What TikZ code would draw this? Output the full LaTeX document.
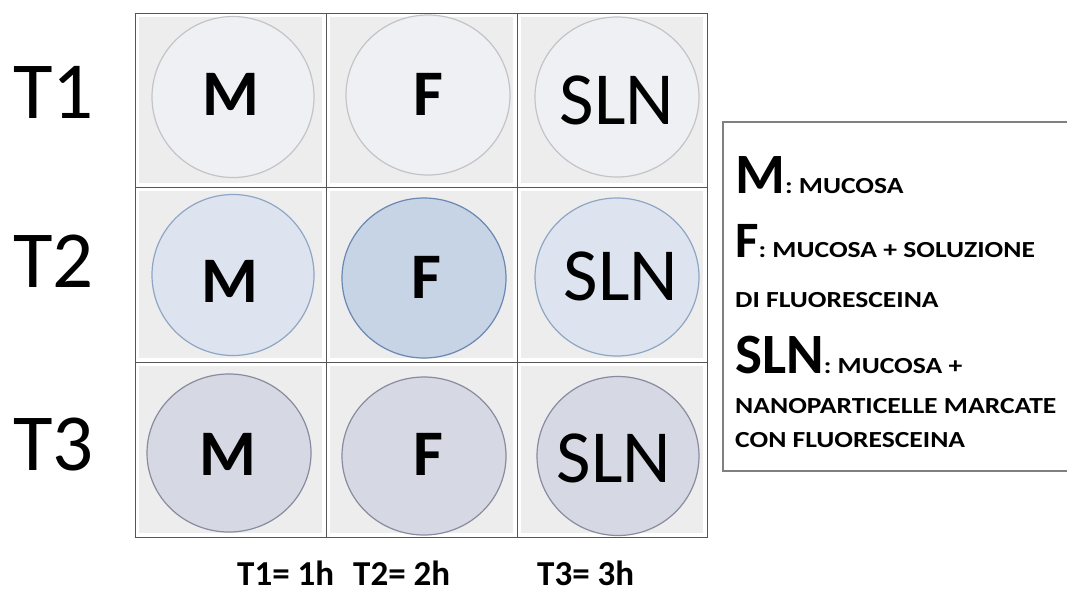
\documentclass[tikz,border=0pt]{standalone}
\usepackage{fontspec}
\setmainfont{Carlito}
\newfontfamily\widefont[FakeStretch=1.2]{Carlito}
\usetikzlibrary{shapes.geometric}
\definecolor{cellbg}{HTML}{EDEDED}
\definecolor{gridln}{HTML}{555555}
\definecolor{wOne}{HTML}{EFF0F4}
\definecolor{wOneE}{HTML}{C4C4C8}
\definecolor{wTwo}{HTML}{DDE4EF}
\definecolor{wTwoE}{HTML}{8EA6C4}
\definecolor{wTwoF}{HTML}{C7D4E6}
\definecolor{wTwoFE}{HTML}{6A88B2}
\definecolor{wThree}{HTML}{D6D9E3}
\definecolor{wThreeE}{HTML}{878C9E}
\tikzset{
  well/.style={ellipse, draw, line width=1.2pt, inner sep=0pt},
  wellA/.style={well, fill=wOne, draw=wOneE},
  wellB/.style={well, fill=wTwo, draw=wTwoE},
  wellBF/.style={well, fill=wTwoF, draw=wTwoFE},
  wellC/.style={well, fill=wThree, draw=wThreeE},
  boldlab/.style={anchor=base, inner sep=0pt, font=\bfseries\fontsize{65}{65}\selectfont},
  sllab/.style={anchor=base, inner sep=0pt, font=\fontsize{75}{75}\selectfont},
  tlab/.style={anchor=base west, inner sep=0pt, font=\fontsize{81}{81}\selectfont},
  hlab/.style={anchor=base west, inner sep=0pt, font=\bfseries\fontsize{35}{35}\selectfont},
  leg/.style={anchor=base west, inner sep=0pt, font=\bfseries},
}
\newcommand{\bigsz}{\fontsize{57}{57}\selectfont}
\newcommand{\fsz}{\fontsize{51}{51}\selectfont}
\newcommand{\smtxt}{\widefont\bfseries\fontsize{23}{23}\selectfont}
\begin{document}
\begin{tikzpicture}[x=1pt,y=-1pt]
\useasboundingbox (0,0) rectangle (1067,592);
\clip (0,0) rectangle (1067,592);
\fill[white] (0,0) rectangle (1067,592);
% cells
\foreach \xa/\xb in {135/326,326/517,517/707}{
  \foreach \ya/\yb in {13/187,187/362,362/537}{
    \fill[cellbg] (\xa+4,\ya+4) rectangle (\xb-4,\yb-4);
  }
}
\draw[gridln, line width=0.9pt] (135,13) rectangle (707,537);
\draw[gridln, line width=0.9pt] (326,13) -- (326,537) (517,13) -- (517,537)
  (135,187) -- (707,187) (135,362) -- (707,362);
% wells
\node[wellA, minimum width=162pt, minimum height=161pt] (m1) at (233,97) {};
\node[wellA, minimum width=164pt, minimum height=160pt] (f1) at (428,95) {};
\node[wellA, minimum width=164pt, minimum height=160pt] (s1) at (617,97) {};
\node[wellB, minimum width=162pt, minimum height=161pt] (m2) at (233,275) {};
\node[wellBF, minimum width=164pt, minimum height=160pt] (f2) at (424,278) {};
\node[wellB, minimum width=164pt, minimum height=158pt] (s2) at (617,277) {};
\node[wellC, minimum width=164pt, minimum height=158pt] (m3) at (229,453) {};
\node[wellC, minimum width=164pt, minimum height=158pt] (f3) at (424,456) {};
\node[wellC, minimum width=162pt, minimum height=159pt] (s3) at (618,456) {};
% well labels
\node[boldlab] (lm1) at (231,115) {M};
\node[boldlab] (lf1) at (428,115) {F};
\node[sllab] (ls1) at (617,124) {SLN};
\node[boldlab] (lm2) at (230,302) {M};
\node[boldlab] (lf2) at (426,298) {F};
\node[sllab] (ls2) at (621,300) {SLN};
\node[boldlab] (lm3) at (228,475) {M};
\node[boldlab] (lf3) at (428,475) {F};
\node[sllab] (ls3) at (614,482) {SLN};
% row labels
\node[tlab] (t1) at (13,118) {T1};
\node[tlab] (t2) at (13,287) {T2};
\node[tlab] (t3) at (13,470) {T3};
% bottom
\node[hlab] (h1) at (237,585) {T1= 1h};
\node[hlab] (h2) at (353,585) {T2= 2h};
\node[hlab] (h3) at (537,585) {T3= 3h};
% legend
\draw[gray, line width=1.5pt] (723,122) rectangle (1080,471);
\node[leg] (g1) at (735,193) {{\bigsz M}{\smtxt : MUCOSA}};
\node[leg] (g2) at (735,257) {{\fsz F}{\smtxt : MUCOSA + SOLUZIONE}};
\node[leg] (g3) at (735,307) {\smtxt DI FLUORESCEINA};
\node[leg] (g4) at (735,373) {{\bigsz SLN}{\smtxt : MUCOSA +}};
\node[leg] (g5) at (735,413) {\smtxt NANOPARTICELLE MARCATE};
\node[leg] (g6) at (735,447) {\smtxt CON FLUORESCEINA};
\end{tikzpicture}
\end{document}
